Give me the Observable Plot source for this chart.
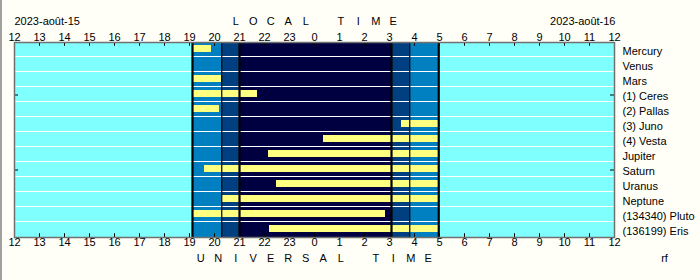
<!DOCTYPE html>
<html><head><meta charset="utf-8">
<script src="https://cdn.jsdelivr.net/npm/d3@7"></script>
<script src="https://cdn.jsdelivr.net/npm/@observablehq/plot@0.6"></script>
<style>
html,body{margin:0;padding:0;background:#fffff8;}
#chart{position:relative;width:700px;height:280px;overflow:hidden}
#edge{position:absolute;left:0;top:0;width:2px;height:280px;background:#a0a0a0}
</style></head><body><div id="chart"><div id="edge"></div></div>
<script>
// ---- data ----
const objects = ["Mercury","Venus","Mars","(1) Ceres","(2) Pallas","(3) Juno","(4) Vesta","Jupiter","Saturn","Uranus","Neptune","(134340) Pluto","(136199) Eris"];
// visibility windows, in hours from noon of 2023-08-15 (values > 24 are next day)
const visStart = [19.12, null, 19.12, 19.12, 19.12, 27.48, 24.36, 22.16, 19.60, 22.48, 20.30, 19.12, 22.20];
const visEnd   = [19.88, null, 20.28, 21.72, 20.20, 28.97, 28.97, 28.97, 28.97, 28.97, 28.97, 26.84, 28.97];
// sky zones (day, civil, nautical, night ...)
const zoneStart = [12, 19.12, 20.29, 21.00, 27.08, 27.81, 28.97];
const zoneEnd   = [19.12, 20.29, 21.00, 27.08, 27.81, 28.97, 36];
const zoneFill  = ["#80ffff","#0080c0","#004080","#000040","#004080","#0080c0","#80ffff"];
// event lines
const eventTimes  = [19.12, 20.29, 21.00, 27.08, 27.81, 28.97];
const eventHeavy  = [true, false, true, true, false, true];
const hourTicks = d3.range(12, 37);
const hourLabels = hourTicks.map(h => String(h % 24));
const dateLeft = "2023-août-15";
const dateRight = "2023-août-16";
const topTitle = "LOCAL TIME";
const bottomTitle = "UNIVERSAL TIME";
const credit = "rf";
const sideMarkRows = ["(1) Ceres", "Saturn"];

// ---- helpers ----
const font = {fontFamily: "Liberation Sans, Arial, sans-serif", fontSize: 11, fill: "black"};
const zones = zoneStart.map((s, i) => ({s, e: zoneEnd[i], f: zoneFill[i]}));
const bars = objects.map((o, i) => ({i, s: visStart[i], e: visEnd[i]})).filter(d => d.s != null);
const spaced = (str, center, step) => Array.from(str).map((c, i, a) => ({c, x: center + (i - (a.length - 1) / 2) * step})).filter(d => d.c !== " ");
const midHour = (hourTicks[0] + hourTicks[hourTicks.length - 1]) / 2;
const innerTicks = hourTicks.slice(1, -1);
const sideRows = sideMarkRows.map(n => objects.indexOf(n) + 0.5);
const n = objects.length;

const chart = Plot.plot({
  width: 700, height: 280,
  marginLeft: 14, marginRight: 86, marginTop: 42, marginBottom: 43,
  style: {background: "transparent", overflow: "visible"},
  x: {domain: [hourTicks[0], hourTicks[hourTicks.length - 1]], axis: null},
  y: {domain: [0, n], reverse: true, axis: null},
  marks: [
    Plot.rect(zones, {x1: "s", x2: "e", y1: () => 0, y2: () => n, fill: d => d.f}),
    Plot.ruleY(d3.range(1, n), {y: d => d, stroke: "white", strokeWidth: 1, dy: -1}),
    Plot.rect(bars, {x1: "s", x2: "e", y1: d => d.i + 0.2, y2: d => d.i + 0.667, fill: "#ffff80"}),
    Plot.ruleX(eventTimes.filter((t, i) => eventHeavy[i]), {x: d => d, y1: () => 0, y2: () => n, stroke: "black", strokeWidth: 2.2}),
    Plot.ruleX(eventTimes.filter((t, i) => !eventHeavy[i]), {x: d => d, y1: () => 0, y2: () => n, stroke: "black", strokeWidth: 1.2}),
    Plot.ruleX(innerTicks, {x: d => d, y1: () => 0, y2: () => 0.25, stroke: "black"}),
    Plot.ruleX(innerTicks, {x: d => d, y1: () => n - 0.25, y2: () => n, stroke: "black"}),
    Plot.ruleY(sideRows, {y: d => d, x1: () => hourTicks[0], x2: () => hourTicks[0] + 0.16, stroke: "black"}),
    Plot.ruleY(sideRows, {y: d => d, x1: () => hourTicks[hourTicks.length - 1] - 0.16, x2: () => hourTicks[hourTicks.length - 1], stroke: "black"}),
    Plot.frame({stroke: "#707070", strokeWidth: 1.5}),
    // hour labels top & bottom
    Plot.text(hourTicks, {x: d => d, text: (d, i) => hourLabels[i], frameAnchor: "top", dy: -9.5, ...font}),
    Plot.text(hourTicks, {x: d => d, text: (d, i) => hourLabels[i], frameAnchor: "bottom", dy: 8.5, ...font}),
    // dates
    Plot.text([dateLeft], {x: () => hourTicks[0], text: d => d, frameAnchor: "top", dy: -25, textAnchor: "start", ...font}),
    Plot.text([dateRight], {x: () => hourTicks[hourTicks.length - 1], text: d => d, frameAnchor: "top", dy: -25, textAnchor: "end", dx: 1, ...font}),
    // spaced titles
    Plot.text(spaced(topTitle, midHour, 0.7), {x: "x", text: "c", frameAnchor: "top", dy: -25, ...font}),
    Plot.text(spaced(bottomTitle, midHour, 0.7), {x: "x", text: "c", frameAnchor: "bottom", dy: 24.5, ...font}),
    // object names
    Plot.text(objects, {x: () => hourTicks[hourTicks.length - 1], y: (d, i) => i + 0.5, text: d => d, dx: 8, dy: 1, textAnchor: "start", ...font}),
    // credit
    Plot.text([credit], {x: () => hourTicks[hourTicks.length - 1], text: d => d, frameAnchor: "bottom", dy: 24.5, dx: 50, ...font})
  ]
});
document.getElementById("chart").appendChild(chart);
</script>
</body></html>
